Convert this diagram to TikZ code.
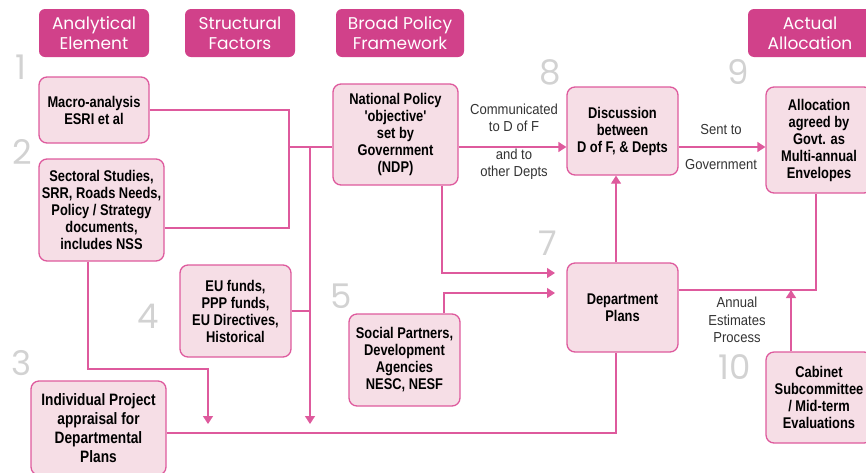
\documentclass[tikz,border=0pt]{standalone}
\usepackage{fontspec}
\setmainfont{Liberation Sans}
\newfontfamily\boxfont{Liberation Sans}[FakeStretch=0.83]
\newfontfamily\notefont{Liberation Sans}[FakeStretch=0.9]
\newfontfamily\headfont{Poppins}
\usetikzlibrary{positioning, arrows.meta}

\definecolor{headpink}{HTML}{D1418A}
\definecolor{boxpink}{HTML}{F6DEE6}
\definecolor{linepink}{HTML}{DE5A9D}
\definecolor{numgrey}{HTML}{D2D2D2}

\begin{document}
\begin{tikzpicture}
    [
        x=1pt, y=-1pt,
        head_box/.style={rectangle, rounded corners=6pt, fill=headpink, text=white, inner sep=0pt, minimum height=48pt, align=center, font=\headfont\fontsize{17}{20}\selectfont},
        pink_box/.style={rectangle, rounded corners=8pt, draw=linepink, line width=1.3pt, fill=boxpink, inner sep=0pt, align=center, font=\boxfont\bfseries\fontsize{15.5}{17}\selectfont},
        step_num/.style={text=numgrey, inner sep=0pt, font=\headfont\fontsize{34}{34}\selectfont},
        note/.style={text=black!80, inner sep=0pt, align=center, font=\notefont\fontsize{14.5}{17.5}\selectfont},
        link/.style={draw=linepink, line width=1.3pt},
        link_arrow/.style={link, -{Triangle[length=8pt, width=10pt]}},
    ]
        \useasboundingbox (0,0) rectangle (866,472);
        \clip (0,0) rectangle (866,472);

        % column headings
        \node[head_box, minimum width=110pt] (h_anal) at (94,33) {Analytical\\Element};
        \node[head_box, minimum width=110pt] (h_struct) at (240,33) {Structural\\Factors};
        \node[head_box, minimum width=128pt] (h_broad) at (400,33) {Broad Policy\\Framework};
        \node[head_box, minimum width=124pt] (h_actual) at (810,33) {Actual\\Allocation};

        % stage numbers
        \node[step_num] (n1) at (21,67) {1};
        \node[step_num] (n2) at (22,152) {2};
        \node[step_num] (n3) at (22,363) {3};
        \node[step_num] (n4) at (148,316) {4};
        \node[step_num] (n5) at (341,296) {5};
        \node[step_num] (n7) at (548,243) {7};
        \node[step_num] (n8) at (550,72) {8};
        \node[step_num] (n9) at (738,72) {9};
        \node[step_num] (n10) at (735,367) {10};

        % boxes
        \node[pink_box, minimum width=110pt, minimum height=66pt] (macro) at (94,110) {Macro-analysis\\ESRI et al};
        \node[pink_box, minimum width=125pt, minimum height=102pt] (sect) at (101.5,210) {Sectoral Studies,\\SRR, Roads Needs,\\Policy / Strategy\\documents,\\includes NSS};
        \node[pink_box, minimum width=111pt, minimum height=92pt] (eu) at (235.5,311) {EU funds,\\PPP funds,\\EU Directives,\\Historical};
        \node[pink_box, minimum width=135pt, minimum height=94pt, font=\boxfont\bfseries\fontsize{16.5}{19}\selectfont] (indiv) at (98.5,428) {Individual Project\\appraisal for\\Departmental\\Plans};
        \node[pink_box, minimum width=125pt, minimum height=101pt] (natpol) at (395.5,134.5) {National Policy\\'objective'\\set by\\Government\\(NDP)};
        \node[pink_box, minimum width=111pt, minimum height=92pt] (social) at (404.5,360) {Social Partners,\\Development\\Agencies\\NESC, NESF};
        \node[pink_box, minimum width=111pt, minimum height=88pt] (disc) at (622.5,131) {Discussion\\between\\D of F, \& Depts};
        \node[pink_box, minimum width=111pt, minimum height=89pt] (dept) at (622.5,307.5) {Department\\Plans};
        \node[pink_box, minimum width=106pt, minimum height=106pt] (alloc) at (819,140) {Allocation\\agreed by\\Govt. as\\Multi-annual\\Envelopes};
        \node[pink_box, minimum width=106pt, minimum height=91pt] (cabinet) at (819,397.5) {Cabinet\\Subcommittee\\/ Mid-term\\Evaluations};

        % connector labels
        \node[note] (l_comm) at (514,118) {Communicated\\to D of F};
        \node[note] (l_other) at (514,164) {and to\\other Depts};
        \node[note] (l_sent) at (721,130) {Sent to};
        \node[note] (l_govt) at (721,165) {Government};
        \node[note] (l_annual) at (737,320) {Annual\\Estimates\\Process};

        % bends and junctions of the connectors
        \coordinate (j_top) at (289,147);
        \coordinate (j_sect) at (289,228);
        \coordinate (j_drop) at (310,147);
        \coordinate (j_drop_end) at (310,424);
        \coordinate (j_left) at (88,369);
        \coordinate (j_left_end) at (208,424);
        \coordinate (j_base) at (616,433);
        \coordinate (j_np) at (442,273);
        \coordinate (j_np_end) at (555,273);
        \coordinate (j_sp) at (444,293);
        \coordinate (j_sp_end) at (555,293);
        \coordinate (j_est) at (816,290);
        \coordinate (j_cab) at (791,290);

        \draw[link] (macro.east) -| (j_sect) -- (sect.east |- j_sect);
        \draw[link] (j_top) -- (natpol.west |- j_top);
        \draw[link_arrow] (j_drop) -- (j_drop_end);
        \draw[link] (eu.east) -- (eu.east -| j_drop);
        \draw[link_arrow] (sect.south -| j_left) -- (j_left) -| (j_left_end);
        \draw[link] (indiv.east |- j_base) -- (j_base) -- (dept.south -| j_base);
        \draw[link_arrow] (natpol.east |- j_top) -- (disc.west |- j_top);
        \draw[link_arrow] (natpol.south -| j_np) -- (j_np) -- (j_np_end);
        \draw[link_arrow] (social.north -| j_sp) -- (j_sp) -- (j_sp_end);
        \draw[link_arrow] (dept.north -| j_base) -- (disc.south -| j_base);
        \draw[link_arrow] (disc.east |- j_top) -- (alloc.west |- j_top);
        \draw[link] (dept.east |- j_est) -- (j_est) -- (alloc.south -| j_est);
        \draw[link_arrow] (cabinet.north -| j_cab) -- (j_cab);
    \end{tikzpicture}
\end{document}
